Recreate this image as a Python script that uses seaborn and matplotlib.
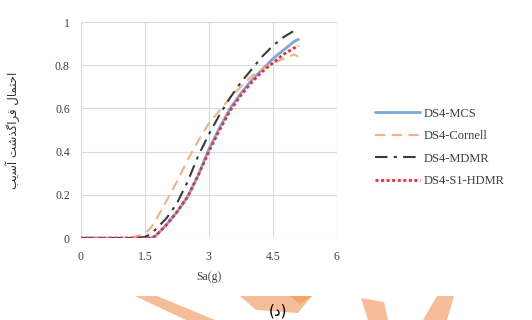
import matplotlib
matplotlib.use("Agg")
import matplotlib.pyplot as plt
from matplotlib.patches import Polygon
import pandas as pd
import seaborn as sns

# Spectral acceleration (g) and fragility values for damage state DS4
sa = [0, 0.5, 1.0, 1.25, 1.5, 1.65, 1.75, 2.0, 2.25, 2.5, 2.75,
      3.0, 3.25, 3.5, 3.75, 4.0, 4.25, 4.5, 4.75, 5.0, 5.1]
p_mcs = [0, 0, 0, 0, 0, 0, 0.01, 0.06, 0.12, 0.19, 0.29,
         0.41, 0.51, 0.60, 0.67, 0.73, 0.78, 0.83, 0.87, 0.91, 0.92]
p_cornell = [0, 0, 0, 0.005, 0.02, 0.05, 0.08, 0.17, 0.26, 0.36, 0.45,
             0.53, 0.59, 0.65, 0.70, 0.75, 0.78, 0.81, 0.83, 0.85, 0.84]
p_mdmr = [0, 0, 0, 0, 0.005, 0.02, 0.04, 0.09, 0.16, 0.26, 0.38,
          0.48, 0.57, 0.65, 0.72, 0.78, 0.84, 0.89, 0.93, 0.96, 0.97]
p_hdmr = [0, 0, 0, 0, 0, 0, 0.01, 0.06, 0.12, 0.19, 0.29,
          0.40, 0.50, 0.59, 0.66, 0.72, 0.77, 0.81, 0.85, 0.88, 0.89]

methods = ["DS4-MCS", "DS4-Cornell", "DS4-MDMR", "DS4-S1-HDMR"]
x_ticks = [0, 1.5, 3, 4.5, 6]
x_tick_labels = ["0", "1.5", "3", "4.5", "6"]
y_ticks = [0, 0.2, 0.4, 0.6, 0.8, 1]
y_tick_labels = ["0", "0.2", "0.4", "0.6", "0.8", "1"]

series = {
    "DS4-MCS": p_mcs,
    "DS4-Cornell": p_cornell,
    "DS4-MDMR": p_mdmr,
    "DS4-S1-HDMR": p_hdmr,
}
df = pd.concat(
    [pd.DataFrame({"Sa": sa, "P": vals, "method": name}) for name, vals in series.items()],
    ignore_index=True,
)

styles = {
    "DS4-MCS": dict(color="#7DA7D9", linestyle="-", linewidth=2.0),
    "DS4-Cornell": dict(color="#F4B183", linestyle=(0, (5, 3)), linewidth=1.5),
    "DS4-MDMR": dict(color="#3A3A3A", linestyle=(0, (6, 3, 1.5, 3)), linewidth=1.5),
    "DS4-S1-HDMR": dict(color="#E8303F", linestyle=(0, (1.1, 0.9)), linewidth=2.0),
}

sns.set_theme(style="white")
plt.rcParams["font.family"] = ["Liberation Serif", "DejaVu Sans"]

fig = plt.figure(figsize=(5.32, 3.2), dpi=100)
ax = fig.add_axes([0.152, 0.256, 0.481, 0.675])

for name in methods:
    sub = df[df["method"] == name]
    sns.lineplot(data=sub, x="Sa", y="P", ax=ax, label=name, **styles[name])

ax.set_xlim(0, 6)
ax.set_ylim(0, 1)
ax.set_xticks(x_ticks)
ax.set_xticklabels(x_tick_labels)
ax.set_yticks(y_ticks)
ax.set_yticklabels(y_tick_labels)
ax.grid(True, color="#D9D9D9", linewidth=0.8)
ax.set_axisbelow(True)
for s in ax.spines.values():
    s.set_visible(False)
ax.tick_params(axis="both", length=0, labelsize=8.5, labelcolor="#404040")
ax.tick_params(axis="x", pad=9)
ax.tick_params(axis="y", pad=8)

ax.set_xlabel("Sa(g)", fontsize=8.5, color="#404040", labelpad=6)
ax.set_ylabel("")

# Persian axis title (shaped glyphs in visual order): احتمال فراگذشت آسیب
ylabel = ("\uFE90\uFBFE\uFEB3\uFE81 "
          "\uFE96\uFEB7\uFEAC\uFB94\uFE8D\uFEAE\uFED3 "
          "\uFEDD\uFE8E\uFEE4\uFE98\uFEA3\uFE8D")
fig.text(13 / 532, 0.594, ylabel, rotation=90, ha="center", va="center",
         fontsize=8.5, color="#303030", family=["DejaVu Sans"])

ax.legend(loc="center left", bbox_to_anchor=(375 / 532, 0.539),
          bbox_transform=fig.transFigure, frameon=False, fontsize=9,
          handlelength=3.6, handletextpad=0.3, labelspacing=0.85,
          borderpad=0, borderaxespad=0, labelcolor="#404040")

# Orange decorative shapes along the bottom edge
def px(points):
    return [(x / 532, 1 - y / 320) for x, y in points]

shapes = [
    ([(135, 296), (157, 296), (215, 320), (186, 320)], "#F6BE98"),
    ([(240, 296), (312, 296), (298, 313), (256, 310)], "#F6BE98"),
    ([(290, 296), (312, 296), (300, 304)], "#F2A46E"),
    ([(361, 298), (384, 302), (388, 320), (368, 320)], "#F6BE98"),
    ([(437, 296), (454, 296), (447, 320), (423, 320)], "#F6BE98"),
]
for pts, col in shapes:
    fig.patches.append(Polygon(px(pts), closed=True, facecolor=col,
                               edgecolor="none", transform=fig.transFigure))

fig.text(278 / 532, 1.5 / 320, "(\u062F)", ha="center", va="bottom",
         fontsize=11, color="black", family=["DejaVu Sans"])

fig.savefig("out.png", dpi=100, facecolor="white")
